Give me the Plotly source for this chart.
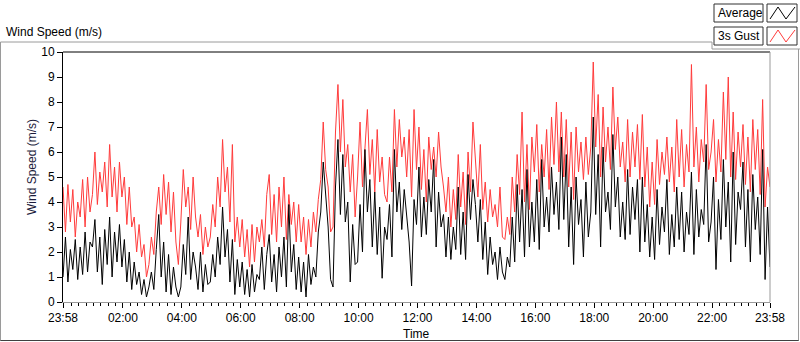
import plotly.graph_objects as go
import pandas as pd

# ---- data (5-minute samples from 23:58 to 23:58 next day) ----
gust = [
    4.6, 2.8, 4.7, 3.2, 4.5, 2.6, 4.0, 3.4, 4.9, 3.0, 5.0, 3.6,
    4.3, 6.0, 3.9, 5.2, 4.4, 5.6, 3.8, 6.3, 4.2, 5.4, 3.6, 5.6,
    4.2, 5.0, 3.1, 4.6, 3.0, 3.4, 2.0, 3.1, 1.8, 2.3, 1.0, 1.5,
    2.6, 1.9, 3.6, 4.6, 3.1, 5.1, 3.5, 4.8, 2.8, 4.4, 2.4, 1.5,
    3.2, 5.3, 3.8, 4.6, 2.9, 5.0, 3.4, 2.6, 3.5, 1.9, 3.0, 2.2,
    2.6, 3.9, 3.0, 5.0, 3.8, 6.5, 4.4, 5.4, 3.2, 6.3, 2.4, 3.4,
    2.2, 3.3, 1.8, 2.9, 1.4, 3.1, 1.6, 3.0, 2.4, 3.3, 2.2, 4.3,
    5.1, 2.7, 4.3, 2.4, 4.6, 3.0, 5.0, 2.5, 4.3, 3.1, 4.0, 2.4,
    3.9, 2.4, 3.4, 1.9, 3.3, 2.2, 3.6, 2.8, 4.1, 4.9, 7.2, 5.3,
    4.6, 2.8, 3.0, 6.8, 8.7, 6.0, 8.1, 5.4, 6.3, 4.4, 5.9, 3.4,
    5.0, 7.2, 4.6, 6.0, 7.7, 5.1, 6.5, 4.4, 6.9, 4.8, 5.8, 4.3,
    4.0, 5.8, 4.4, 7.7, 5.4, 7.3, 5.8, 6.6, 5.0, 6.9, 4.2, 7.7,
    5.3, 7.0, 4.5, 6.1, 4.0, 6.6, 5.3, 6.2, 5.0, 6.8, 5.4, 4.6,
    3.6, 5.0, 3.0, 4.5, 3.3, 5.9, 3.8, 5.2, 3.1, 6.0, 4.4, 7.2,
    5.8, 4.2, 6.3, 3.7, 4.8, 3.2, 4.5, 3.4, 3.9, 3.0, 4.6, 2.6,
    2.5, 3.4, 2.7, 5.0, 3.6, 5.9, 4.3, 7.6, 4.0, 6.3, 3.7, 6.6,
    5.2, 7.1, 4.4, 6.3, 5.0, 6.9, 4.5, 7.4, 5.5, 8.0, 5.2, 7.6,
    5.0, 7.3, 4.6, 6.8, 4.1, 7.0, 5.2, 6.4, 4.9, 6.6, 5.1, 6.2,
    9.6, 6.2, 8.3, 5.0, 7.8, 5.6, 7.0, 5.3, 8.6, 6.1, 7.4, 5.4,
    6.4, 4.8, 7.3, 5.0, 6.8, 5.4, 7.1, 4.9, 7.5, 4.6, 6.2, 3.8,
    5.6, 3.9, 6.5, 4.7, 6.0, 5.1, 6.6, 4.8, 6.2, 4.4, 7.3, 5.0,
    6.9, 4.6, 6.3, 5.2, 9.5, 5.4, 7.0, 4.8, 6.5, 5.6, 8.7, 5.3,
    6.0, 7.3, 4.8, 6.5, 5.2, 8.4, 5.7, 9.0, 5.0, 7.6, 4.9, 6.8,
    5.4, 7.1, 4.7, 6.6, 4.4, 7.3, 5.3, 6.9, 4.3, 8.1, 3.8, 5.4,
    4.6,
]

average = [
    1.0, 2.6, 0.8, 2.1, 1.3, 2.5, 0.9, 2.2, 1.1, 2.8, 1.2, 2.4,
    2.2, 3.3, 1.2, 2.6, 0.7, 2.9, 1.5, 3.4, 1.0, 2.8, 1.6, 3.1,
    1.4, 2.5, 0.8, 2.0, 0.5, 1.6, 0.7, 1.2, 0.3, 0.9, 0.2, 0.6,
    1.2, 0.5, 2.1, 3.5, 1.0, 2.4, 0.4, 1.9, 0.3, 1.4, 0.6, 0.2,
    0.6, 2.3, 1.1, 3.4, 0.9, 2.0, 1.4, 0.5, 2.0, 0.4, 1.5, 0.7,
    0.8, 1.9, 1.0, 2.6, 1.5, 3.8, 1.8, 2.9, 0.8, 2.5, 0.3, 1.7,
    0.6, 1.6, 0.3, 1.3, 0.2, 1.5, 0.4, 1.1, 0.9, 2.2, 0.5, 1.9,
    2.7, 0.8, 1.9, 0.4, 2.2, 1.0, 2.6, 0.6, 3.9, 1.2, 2.3, 0.5,
    1.8, 0.4, 1.6, 0.2, 1.9, 0.7, 1.4, 1.0, 2.8, 3.6, 5.6, 4.2,
    3.0, 0.9, 0.6, 4.6, 6.5, 3.5, 5.9, 3.2, 4.0, 0.8, 3.1, 1.5,
    1.6, 3.9, 2.0, 6.1, 3.6, 4.9, 2.2, 4.4, 1.9, 3.8, 0.95, 3.0,
    2.5, 3.9, 1.8, 6.1, 3.6, 4.8, 2.9, 4.5, 3.3, 2.4, 0.64, 4.1,
    3.1, 5.4, 2.6, 4.2, 2.7, 4.9, 3.6, 5.7, 2.2, 4.4, 3.0, 3.5,
    1.8, 3.4, 1.7, 3.0, 2.1, 4.6, 1.9, 3.6, 1.7, 5.1, 3.3, 4.9,
    3.9, 2.4, 4.1, 1.7, 3.2, 1.1, 2.6, 1.5, 2.0, 0.9, 2.2, 1.2,
    0.9, 1.8, 1.4, 3.4, 1.6, 4.7, 2.4, 4.5, 1.8, 5.3, 2.2, 4.0,
    2.4, 4.9, 2.1, 5.7, 3.0, 4.2, 2.8, 5.4, 3.5, 4.8, 2.9, 6.6,
    3.3, 5.9, 2.2, 4.6, 1.5, 5.0, 3.1, 4.1, 1.8, 4.8, 2.6, 3.6,
    7.4, 3.5, 5.9, 2.2, 6.2, 3.6, 4.4, 2.9, 6.7, 3.8, 5.0, 2.6,
    4.0, 2.5, 5.3, 2.7, 4.6, 3.3, 4.9, 2.0, 5.0, 2.4, 3.9, 1.8,
    3.4, 1.7, 4.5, 2.3, 3.8, 2.8, 4.9, 1.9, 3.5, 2.2, 4.6, 2.5,
    4.4, 2.0, 3.6, 2.7, 5.2, 1.9, 4.5, 2.6, 3.7, 3.1, 6.3, 2.4,
    3.2, 5.0, 1.3, 4.1, 2.5, 5.7, 3.0, 4.8, 1.6, 6.0, 2.3, 4.4,
    3.7, 5.6, 2.2, 4.5, 1.6, 5.1, 2.9, 4.2, 1.9, 6.1, 0.9, 3.8,
    1.4,
]

start_time = "2015-01-01 23:58"
end_time = "2015-01-02 23:58"
tick_times = ["2015-01-01 23:58", "2015-01-02 02:00", "2015-01-02 04:00", "2015-01-02 06:00",
              "2015-01-02 08:00", "2015-01-02 10:00", "2015-01-02 12:00", "2015-01-02 14:00",
              "2015-01-02 16:00", "2015-01-02 18:00", "2015-01-02 20:00", "2015-01-02 22:00",
              "2015-01-02 23:58"]
tick_labels = ["23:58", "02:00", "04:00", "06:00", "08:00", "10:00", "12:00",
               "14:00", "16:00", "18:00", "20:00", "22:00", "23:58"]

times = pd.date_range(start=start_time, periods=len(gust), freq="5min")

W, H = 800, 342
L, R, T, B = 63, 770, 52, 302   # plot area in pixels


def px(x):
    return (x - L) / (R - L)


def py(y):
    return (B - y) / (B - T)


FONT = "Liberation Sans, Arial, sans-serif"

fig = go.Figure()
fig.add_trace(go.Scatter(x=times, y=gust, mode="lines", name="3s Gust",
                         line=dict(color="#ff3b3b", width=1), hoverinfo="skip"))
fig.add_trace(go.Scatter(x=times, y=average, mode="lines", name="Average",
                         line=dict(color="#000000", width=1), hoverinfo="skip"))

shapes = []
# plot frame: top black, right gray
shapes.append(dict(type="line", xref="paper", yref="paper", x0=0, x1=1, y0=1, y1=1,
                   line=dict(color="black", width=1)))
shapes.append(dict(type="line", xref="paper", yref="paper", x0=1, x1=1, y0=0, y1=1,
                   line=dict(color="#9a9a9a", width=1)))
# outer panel frame
for (x0, y0, x1, y1, c) in [
    (0.5, 42, 712, 42, "#9a9a9a"),
    (712, 42, 712, 49, "#9a9a9a"),
    (712, 49, 800, 49, "#9a9a9a"),
    (0.5, 42, 0.5, 341, "#9a9a9a"),
    (798.5, 49, 798.5, 341, "#9a9a9a"),
    (0.5, 340.5, 798.5, 340.5, "#404040"),
]:
    shapes.append(dict(type="line", xref="paper", yref="paper",
                       x0=px(x0), y0=py(y0), x1=px(x1), y1=py(y1),
                       line=dict(color=c, width=1)))

annotations = []
legend_rows = [("Average", "#000000", 4, 22), ("3s Gust", "#ff3b3b", 27, 45)]
for name, color, y0, y1 in legend_rows:
    shapes.append(dict(type="rect", xref="paper", yref="paper",
                       x0=px(714), x1=px(763), y0=py(y1), y1=py(y0),
                       line=dict(color="#303030", width=1), fillcolor="white"))
    shapes.append(dict(type="rect", xref="paper", yref="paper",
                       x0=px(767), x1=px(797), y0=py(y1), y1=py(y0),
                       line=dict(color="#303030", width=1), fillcolor="white"))
    pts = [(770, y1 - 3), (778, y0 + 3), (786, y1 - 3), (795, y0 + 3)]
    path = "M " + " L ".join(f"{px(a):.5f},{py(b):.5f}" for a, b in pts)
    shapes.append(dict(type="path", xref="paper", yref="paper", path=path,
                       line=dict(color=color, width=1)))
    annotations.append(dict(text=name, xref="paper", yref="paper", x=px(716), y=py((y0 + y1) / 2),
                            xanchor="left", yanchor="middle", showarrow=False,
                            font=dict(family=FONT, size=12, color="black")))

annotations.append(dict(text="Wind Speed (m/s)", xref="paper", yref="paper", x=px(4), y=py(32),
                        xanchor="left", yanchor="middle", showarrow=False,
                        font=dict(family=FONT, size=12, color="black")))
annotations.append(dict(text="Wind Speed (m/s)", xref="paper", yref="paper", x=px(32), y=py(167),
                        xanchor="center", yanchor="middle", textangle=-90, showarrow=False,
                        font=dict(family=FONT, size=12, color="#1c1c3c")))
annotations.append(dict(text="Time", xref="paper", yref="paper", x=px(416), y=py(334),
                        xanchor="center", yanchor="middle", showarrow=False,
                        font=dict(family=FONT, size=12, color="black")))

fig.update_layout(
    width=W, height=H, autosize=False,
    margin=dict(l=L, r=W - R, t=T, b=H - B, pad=0),
    paper_bgcolor="white", plot_bgcolor="white",
    showlegend=False,
    shapes=shapes, annotations=annotations,
    font=dict(family=FONT, size=12, color="black"),
    xaxis=dict(
        type="date", range=[start_time, end_time],
        tickmode="array", tickvals=tick_times, ticktext=tick_labels,
        ticks="outside", ticklen=5, tickcolor="black", tickwidth=1,
        showgrid=False, zeroline=False,
        showline=True, linecolor="#9a9a9a", linewidth=1,
        tickfont=dict(family=FONT, size=12, color="black"),
        minor=dict(ticks="outside", ticklen=3, tickcolor="black", tickwidth=1,
                   dtick=15 * 60 * 1000, tick0="2015-01-02 00:00", showgrid=False),
    ),
    yaxis=dict(
        range=[0, 10], dtick=1, tick0=0,
        ticks="outside", ticklen=5, tickcolor="black", tickwidth=1,
        showgrid=False, zeroline=False,
        showline=True, linecolor="black", linewidth=1,
        tickfont=dict(family=FONT, size=12, color="black"),
    ),
)

fig.write_html(
    "out.html",
    config={"displayModeBar": False},
    post_script="document.body.style.margin='0';document.body.style.overflow='hidden';",
)
